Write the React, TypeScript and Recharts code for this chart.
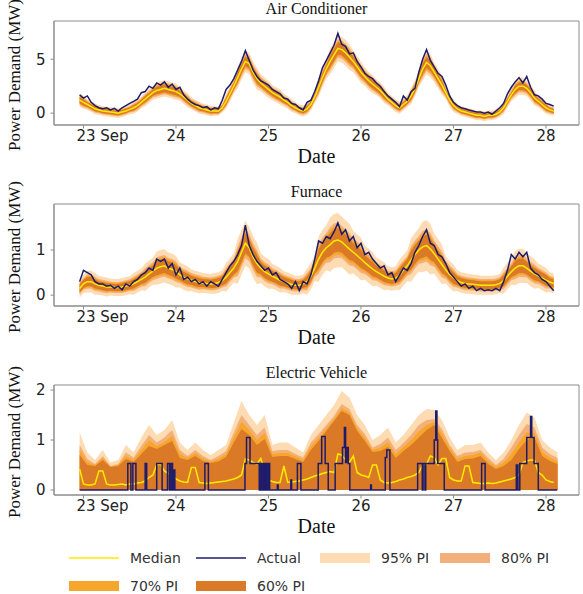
import React from 'react';
import { ComposedChart, Area, Line, XAxis, YAxis, ReferenceArea } from 'recharts';

// time axis: hours since 23 Sep 00:00, hourly samples start at -1 (22 Sep 23:00)
const DAY_TICKS = [0, 24, 48, 72, 96, 120];
const DAY_LABELS = ['23 Sep', '24', '25', '26', '27', '28'];
const X_DOMAIN: [number, number] = [-7.65, 128.56];

// ---------- Air Conditioner (MW) ----------
const AC_ACTUAL = [
  1.7, 1.4, 1.6, 1.0, 0.7, 0.5, 0.4, 0.5, 0.3, 0.45, 0.2, 0.5,
  0.7, 0.9, 1.1, 1.3, 1.9, 2.0, 2.5, 2.3, 2.8, 2.6, 2.9, 2.4,
  2.7, 2.2, 2.4, 1.7, 1.3, 1.0, 0.8, 0.7, 0.5, 0.6, 0.3, 0.5,
  0.4, 1.2, 2.2, 2.6, 3.2, 4.0, 4.8, 5.8, 4.9, 4.0, 3.4, 3.0,
  2.8, 2.6, 2.2, 2.0, 1.8, 1.4, 1.3, 0.9, 0.8, 0.5, 0.3, 1.0,
  1.2, 2.0, 3.0, 4.2, 4.9, 5.6, 6.3, 7.4, 6.4, 6.2, 5.5, 5.6,
  4.8, 4.3, 3.7, 3.4, 3.2, 2.8, 2.5, 2.0, 1.6, 1.3, 1.0, 0.6,
  1.6, 1.2, 2.0, 2.3, 3.8, 5.0, 5.9, 4.9, 4.3, 3.7, 3.4, 2.6,
  1.6, 1.0, 0.7, 0.5, 0.4, 0.3, 0.2, 0.1, 0.1, 0.0, 0.1, -0.1,
  0.2, 0.5, 0.9, 1.8, 2.4, 2.9, 3.3, 2.8, 3.4, 2.4, 1.7, 1.6,
  1.3, 0.9, 0.8, 0.65,
];
const AC_MEDIAN = [
  1.2, 1.0, 0.8, 0.6, 0.4, 0.3, 0.2, 0.15, 0.1, 0.05, 0.0, 0.1,
  0.2, 0.35, 0.5, 0.7, 1.0, 1.3, 1.6, 1.9, 2.1, 2.2, 2.3, 2.2,
  2.1, 2.0, 1.8, 1.5, 1.2, 0.9, 0.7, 0.5, 0.4, 0.3, 0.2, 0.2,
  0.2, 0.5, 1.1, 1.8, 2.5, 3.3, 4.1, 4.8, 4.6, 3.8, 3.2, 2.8,
  2.5, 2.2, 1.9, 1.7, 1.5, 1.2, 1.0, 0.7, 0.5, 0.3, 0.2, 0.4,
  0.8, 1.5, 2.4, 3.3, 4.1, 4.8, 5.4, 6.0, 5.9, 5.6, 5.2, 4.8,
  4.3, 3.8, 3.4, 3.0, 2.7, 2.4, 2.1, 1.7, 1.3, 1.0, 0.7, 0.5,
  0.8, 1.1, 1.6, 2.3, 3.2, 4.1, 4.7, 4.4, 3.8, 3.2, 2.6, 1.9,
  1.2, 0.7, 0.4, 0.2, 0.1, 0.0, -0.1, -0.2, -0.2, -0.3, -0.2, -0.2,
  -0.1, 0.1, 0.5, 1.1, 1.7, 2.2, 2.5, 2.5, 2.3, 1.9, 1.4, 1.1,
  0.8, 0.5, 0.3, 0.2,
];
// half-widths of the prediction intervals, every 3 hours
const AC_W95 = [
  0.6, 0.5, 0.45, 0.45, 0.45, 0.55, 0.65, 0.75, 0.75, 0.65,
  0.55, 0.5, 0.45, 0.7, 1.0, 1.0, 0.8, 0.7, 0.6, 0.5,
  0.55, 0.9, 1.2, 1.2, 1.0, 0.85, 0.75, 0.6, 0.55, 0.75,
  1.1, 0.9, 0.6, 0.45, 0.45, 0.45, 0.45, 0.6, 0.8, 0.7,
  0.55, 0.45,
];
const AC_W80 = [
  0.45, 0.35, 0.3, 0.3, 0.3, 0.4, 0.45, 0.55, 0.55, 0.45,
  0.4, 0.35, 0.3, 0.5, 0.7, 0.7, 0.55, 0.5, 0.4, 0.35,
  0.4, 0.65, 0.85, 0.85, 0.7, 0.6, 0.55, 0.4, 0.4, 0.55,
  0.8, 0.65, 0.4, 0.3, 0.3, 0.3, 0.3, 0.4, 0.55, 0.5,
  0.4, 0.3,
];
const AC_W70 = [
  0.35, 0.28, 0.25, 0.25, 0.25, 0.3, 0.35, 0.45, 0.45, 0.35,
  0.3, 0.28, 0.25, 0.4, 0.55, 0.55, 0.45, 0.4, 0.3, 0.28,
  0.3, 0.5, 0.7, 0.7, 0.55, 0.5, 0.45, 0.3, 0.3, 0.45,
  0.65, 0.5, 0.3, 0.25, 0.25, 0.25, 0.25, 0.3, 0.45, 0.4,
  0.3, 0.25,
];
const AC_W60 = [
  0.28, 0.22, 0.2, 0.2, 0.2, 0.25, 0.28, 0.35, 0.35, 0.28,
  0.25, 0.22, 0.2, 0.32, 0.45, 0.45, 0.35, 0.32, 0.25, 0.22,
  0.25, 0.4, 0.55, 0.55, 0.45, 0.4, 0.35, 0.25, 0.25, 0.35,
  0.5, 0.4, 0.25, 0.2, 0.2, 0.2, 0.2, 0.25, 0.35, 0.32,
  0.25, 0.2,
];

// ---------- Furnace (MW) ----------
const FU_ACTUAL = [
  0.3, 0.55, 0.5, 0.45, 0.3, 0.25, 0.25, 0.2, 0.22, 0.15, 0.2, 0.12,
  0.25, 0.2, 0.3, 0.35, 0.45, 0.5, 0.6, 0.55, 0.8, 0.75, 0.8, 0.6,
  0.7, 0.45, 0.6, 0.35, 0.4, 0.3, 0.35, 0.25, 0.3, 0.2, 0.3, 0.25,
  0.2, 0.35, 0.5, 0.65, 0.75, 0.9, 1.1, 1.55, 1.1, 0.9, 0.75, 0.65,
  0.55, 0.6, 0.45, 0.5, 0.35, 0.3, 0.25, 0.15, 0.3, 0.1, 0.3, 0.25,
  0.45, 0.8, 1.2, 1.15, 1.3, 1.25, 1.4, 1.6, 1.35, 1.45, 1.2, 1.3,
  1.05, 1.15, 0.9, 0.95, 0.8, 0.7, 0.6, 0.65, 0.45, 0.5, 0.3, 0.45,
  0.6, 0.55, 0.7, 0.95, 1.1, 1.3, 1.45, 1.15, 1.1, 0.9, 0.85, 0.7,
  0.5, 0.4, 0.3, 0.2, 0.25, 0.15, 0.2, 0.1, 0.15, 0.1, 0.12, 0.1,
  0.15, 0.1, 0.3, 0.55, 0.9, 0.8, 0.95, 0.85, 0.95, 0.6, 0.5, 0.45,
  0.35, 0.3, 0.2, 0.1,
];
const FU_MEDIAN = [
  0.15, 0.25, 0.3, 0.3, 0.25, 0.22, 0.2, 0.18, 0.18, 0.17, 0.17, 0.18,
  0.2, 0.22, 0.25, 0.3, 0.35, 0.4, 0.47, 0.53, 0.6, 0.63, 0.65, 0.6,
  0.57, 0.52, 0.45, 0.4, 0.36, 0.33, 0.3, 0.28, 0.27, 0.26, 0.25, 0.26,
  0.28, 0.32, 0.4, 0.5, 0.6, 0.75, 0.95, 1.15, 1.05, 0.85, 0.7, 0.6,
  0.52, 0.47, 0.42, 0.38, 0.33, 0.3, 0.27, 0.24, 0.22, 0.22, 0.25, 0.3,
  0.42, 0.6, 0.8, 0.95, 1.05, 1.12, 1.2, 1.22, 1.18, 1.1, 1.02, 0.95,
  0.88, 0.8, 0.72, 0.65, 0.58, 0.52, 0.47, 0.42, 0.38, 0.36, 0.38, 0.45,
  0.55, 0.65, 0.78, 0.9, 1.0, 1.07, 1.1, 1.02, 0.92, 0.8, 0.68, 0.56,
  0.46, 0.38, 0.32, 0.28, 0.26, 0.25, 0.24, 0.23, 0.22, 0.22, 0.22, 0.22,
  0.23, 0.26, 0.32, 0.42, 0.52, 0.6, 0.65, 0.65, 0.6, 0.53, 0.47, 0.43,
  0.38, 0.33, 0.29, 0.26,
];
const FU_W95 = [
  0.2, 0.24, 0.21, 0.19, 0.2, 0.24, 0.3, 0.37, 0.35, 0.28,
  0.24, 0.22, 0.23, 0.32, 0.5, 0.46, 0.33, 0.27, 0.23, 0.21,
  0.29, 0.5, 0.6, 0.56, 0.47, 0.38, 0.31, 0.26, 0.34, 0.48,
  0.56, 0.44, 0.3, 0.23, 0.22, 0.21, 0.21, 0.29, 0.38, 0.33,
  0.27, 0.22,
];
const FU_W80 = [
  0.13, 0.16, 0.14, 0.12, 0.13, 0.16, 0.2, 0.24, 0.23, 0.18,
  0.16, 0.14, 0.15, 0.21, 0.33, 0.3, 0.21, 0.18, 0.15, 0.14,
  0.19, 0.33, 0.39, 0.36, 0.31, 0.25, 0.2, 0.17, 0.22, 0.31,
  0.36, 0.29, 0.2, 0.15, 0.14, 0.14, 0.14, 0.19, 0.25, 0.21,
  0.18, 0.14,
];
const FU_W70 = [
  0.11, 0.13, 0.11, 0.1, 0.11, 0.13, 0.16, 0.2, 0.19, 0.15,
  0.13, 0.12, 0.12, 0.17, 0.27, 0.24, 0.17, 0.14, 0.12, 0.11,
  0.15, 0.27, 0.32, 0.3, 0.25, 0.2, 0.16, 0.14, 0.18, 0.25,
  0.3, 0.23, 0.16, 0.12, 0.12, 0.11, 0.11, 0.15, 0.2, 0.17,
  0.14, 0.12,
];
const FU_W60 = [
  0.09, 0.1, 0.09, 0.08, 0.09, 0.1, 0.13, 0.16, 0.15, 0.12,
  0.1, 0.09, 0.1, 0.14, 0.22, 0.2, 0.14, 0.12, 0.1, 0.09,
  0.12, 0.22, 0.26, 0.24, 0.2, 0.16, 0.13, 0.11, 0.15, 0.21,
  0.24, 0.19, 0.13, 0.1, 0.09, 0.09, 0.09, 0.12, 0.16, 0.14,
  0.12, 0.09,
];

// ---------- Electric Vehicle (MW) ----------
const EV_MEDIAN = [
  0.42, 0.12, 0.1, 0.1, 0.12, 0.38, 0.38, 0.12, 0.1, 0.1, 0.11, 0.12,
  0.1, 0.12, 0.12, 0.14, 0.15, 0.18, 0.25, 0.3, 0.5, 0.52, 0.38, 0.33,
  0.3, 0.22, 0.18, 0.16, 0.15, 0.45, 0.45, 0.15, 0.14, 0.13, 0.14, 0.15,
  0.16, 0.17, 0.18, 0.2, 0.22, 0.25, 0.3, 0.62, 0.6, 0.55, 0.52, 0.63,
  0.4, 0.2, 0.17, 0.15, 0.15, 0.48, 0.15, 0.16, 0.17, 0.18, 0.2, 0.22,
  0.25, 0.28, 0.3, 0.33, 0.35, 0.37, 0.35, 0.72, 0.7, 0.6, 0.55, 0.68,
  0.35, 0.3, 0.28, 0.25, 0.5, 0.5, 0.2, 0.15, 0.14, 0.15, 0.17, 0.2,
  0.22, 0.25, 0.27, 0.3, 0.35, 0.5, 0.52, 0.68, 0.65, 0.5, 0.63, 0.63,
  0.25, 0.2, 0.18, 0.18, 0.48, 0.48, 0.15, 0.14, 0.13, 0.13, 0.14, 0.13,
  0.14, 0.16, 0.18, 0.2, 0.22, 0.25, 0.3, 0.55, 0.58, 0.6, 0.6, 0.35,
  0.3, 0.2, 0.17, 0.15,
];
// upper edge of each interval every 2 hours (lower edge is 0)
const EV_PI95 = [
  1.15, 0.75, 0.6, 0.8, 0.55, 0.6, 0.9, 0.75, 1.05, 1.3,
  1.1, 1.2, 1.4, 0.95, 0.8, 0.95, 0.8, 0.7, 0.8, 0.9,
  1.35, 1.78, 1.5, 1.3, 1.5, 0.9, 0.95, 0.95, 0.85, 0.75,
  1.1, 1.3, 1.5, 1.7, 1.98, 1.85, 1.5, 1.3, 1.0, 1.1,
  1.25, 0.95, 1.1, 1.3, 1.5, 1.62, 1.6, 1.4, 1.05, 0.8,
  0.9, 0.9, 0.95, 0.75, 0.6, 0.75, 1.0, 1.3, 1.55, 1.45,
  1.0, 0.85, 0.75,
];
const EV_PI80 = [
  0.9, 0.62, 0.52, 0.68, 0.48, 0.52, 0.75, 0.65, 0.88, 1.1,
  0.95, 1.05, 1.2, 0.8, 0.68, 0.8, 0.68, 0.6, 0.68, 0.78,
  1.15, 1.5, 1.3, 1.1, 1.25, 0.78, 0.8, 0.8, 0.72, 0.65,
  0.95, 1.12, 1.3, 1.48, 1.72, 1.62, 1.3, 1.12, 0.85, 0.92,
  1.05, 0.8, 0.94, 1.1, 1.3, 1.4, 1.42, 1.22, 0.9, 0.68,
  0.75, 0.76, 0.8, 0.64, 0.5, 0.62, 0.85, 1.1, 1.32, 1.25,
  0.85, 0.72, 0.64,
];
const EV_PI70 = [
  0.8, 0.56, 0.5, 0.64, 0.47, 0.5, 0.68, 0.6, 0.8, 1.0,
  0.88, 0.96, 1.08, 0.72, 0.64, 0.74, 0.63, 0.57, 0.62, 0.72,
  1.05, 1.36, 1.2, 1.0, 1.14, 0.72, 0.74, 0.74, 0.67, 0.6,
  0.87, 1.04, 1.23, 1.42, 1.64, 1.55, 1.24, 1.04, 0.8, 0.85,
  0.95, 0.72, 0.86, 1.0, 1.17, 1.3, 1.36, 1.13, 0.84, 0.62,
  0.68, 0.7, 0.75, 0.58, 0.46, 0.55, 0.72, 0.96, 1.15, 1.15,
  0.76, 0.65, 0.58,
];
const EV_PI60 = [
  0.7, 0.5, 0.48, 0.6, 0.46, 0.48, 0.62, 0.56, 0.72, 0.88,
  0.82, 0.9, 0.98, 0.64, 0.6, 0.68, 0.58, 0.54, 0.57, 0.66,
  0.95, 1.22, 1.1, 0.9, 1.02, 0.66, 0.68, 0.68, 0.62, 0.56,
  0.8, 0.98, 1.18, 1.38, 1.58, 1.5, 1.18, 0.98, 0.76, 0.78,
  0.86, 0.64, 0.78, 0.9, 1.05, 1.2, 1.3, 1.04, 0.78, 0.56,
  0.62, 0.63, 0.68, 0.52, 0.42, 0.48, 0.6, 0.82, 1.0, 1.05,
  0.68, 0.58, 0.52,
];
// actual EV demand is a step signal: [hour, level from that hour on]
const EV_ACTUAL_STEPS: [number, number][] = [
  [-1, 0], [11.5, 0.53], [12.3, 0], [12.8, 0.53], [13.6, 0], [16.0, 0.53], [16.4, 0],
  [19.0, 0.53], [20.4, 0], [21.8, 0.53], [22.3, 0], [22.7, 0.53], [23.1, 0], [23.5, 0.4], [23.7, 0],
  [31.5, 0.53], [32.4, 0],
  [41.9, 0.53], [42.3, 1.05], [43.2, 0.53], [45.6, 0],
  [46.0, 0.53], [46.3, 0], [46.7, 0.53], [47.0, 0], [47.3, 0.53], [47.6, 0], [48.0, 0.53], [48.3, 0],
  [50.3, 0.1], [50.5, 0], [53.8, 0.2], [54.0, 0], [55.5, 0.53], [56.4, 0],
  [60.9, 0.53], [61.8, 1.07], [62.7, 0.53], [63.5, 0],
  [65.3, 0.53], [67.2, 0.85], [67.7, 1.25], [68.0, 0.55], [68.3, 0.85], [68.7, 0.53], [69.1, 0],
  [74.5, 0.1], [74.7, 0], [78.3, 0.65], [78.7, 0.8], [79.5, 0],
  [86.7, 0.53], [87.9, 0], [88.1, 0.53], [88.6, 0], [88.8, 0.53], [91.0, 1.0], [91.4, 1.58],
  [91.7, 1.0], [91.9, 0.53], [93.6, 0],
  [103.3, 0.53], [104.2, 0],
  [112.3, 0.5], [112.7, 0], [113.2, 0.53], [115.0, 1.05], [116.0, 1.47], [116.3, 1.05],
  [116.9, 0.53], [118.0, 0], [122.9, 0],
];

const MEDIAN_COLOR = '#ffea00';
const ACTUAL_COLOR = '#1d1b6c';
const PI_COLORS = { pi95: '#fddcb4', pi80: '#f4b07a', pi70: '#f7a62c', pi60: '#db7a26' };
const FRAME = '#8c8c8c';
const SERIF = '"Liberation Serif", "Times New Roman", serif';
const SANS = '"DejaVu Sans", sans-serif';

const hourlyRows = (actual: number[], median: number[], w95: number[], w80: number[], w70: number[], w60: number[]) =>
  median.map((m, i) => {
    const k = Math.min(Math.round(i / 3), w95.length - 1);
    return {
      t: i - 1,
      actual: actual[i],
      median: m,
      pi95: [m - w95[k], m + w95[k]],
      pi80: [m - w80[k], m + w80[k]],
      pi70: [m - w70[k], m + w70[k]],
      pi60: [m - w60[k], m + w60[k]],
    };
  });

const acRows = hourlyRows(AC_ACTUAL, AC_MEDIAN, AC_W95, AC_W80, AC_W70, AC_W60);
const fuRows = hourlyRows(FU_ACTUAL, FU_MEDIAN, FU_W95, FU_W80, FU_W70, FU_W60);
const evMedianRows = EV_MEDIAN.map((v, i) => ({ t: i - 1, median: v }));
const evBandRows = EV_PI95.map((v, j) => ({
  t: -1 + 2 * j, pi95: v, pi80: EV_PI80[j], pi70: EV_PI70[j], pi60: EV_PI60[j],
}));
const evActualRows = EV_ACTUAL_STEPS.map(([t, v]) => ({ t, actual: v }));

const DayTick = (props: any) => {
  const { x, y, payload } = props;
  const idx = DAY_TICKS.indexOf(payload.value);
  // the first label sits to the right of its tick in the original
  return (
    <text x={x + (idx === 0 ? 19 : 0)} y={y} dy="0.71em" textAnchor="middle" fontSize={15} fontFamily={SANS} fill="#222">
      {DAY_LABELS[idx]}
    </text>
  );
};

const DateLabel = (props: any) => {
  const { viewBox } = props;
  return (
    <text x={viewBox.x + viewBox.width / 2} y={viewBox.y + 38} textAnchor="middle" fontSize={20} fontFamily={SERIF} fill="#111">
      Date
    </text>
  );
};

const PowerLabel = (props: any) => {
  const { viewBox } = props;
  const cx = 14;
  const cy = viewBox.y + viewBox.height / 2 + 2;
  return (
    <text x={cx} y={cy} transform={`rotate(-90, ${cx}, ${cy})`} textAnchor="middle" dominantBaseline="central"
      fontSize={17} fontFamily={SERIF} fill="#111">
      Power Demand (MW)
    </text>
  );
};

const bandAreas = (data?: any[]) =>
  (['pi95', 'pi80', 'pi70', 'pi60'] as const).map((key) => (
    <Area key={key} data={data} dataKey={key} type="linear" stroke="none" fill={PI_COLORS[key]} fillOpacity={1}
      baseValue={0} activeDot={false} dot={false} isAnimationActive={false} />
  ));

type PanelProps = {
  title: string;
  top: number;
  height: number;
  marginTop: number;
  yDomain: [number, number];
  yTicks: number[];
  data?: any[];
  children: React.ReactNode;
};

function Panel({ title, top, height, marginTop, yDomain, yTicks, data, children }: PanelProps) {
  return (
    <div style={{ position: 'absolute', left: 0, top, width: 583, height }}>
      <div style={{
        position: 'absolute', left: 54, width: 525, top: marginTop - 21, textAlign: 'center',
        fontFamily: SERIF, fontSize: 16, lineHeight: '18px', color: '#111',
      }}>
        {title}
      </div>
      <ComposedChart width={583} height={height} data={data} margin={{ top: marginTop, right: 4, bottom: 0, left: 0 }}>
        <XAxis dataKey="t" type="number" domain={X_DOMAIN} allowDataOverflow ticks={DAY_TICKS} interval={0}
          height={45} tickSize={3.5} tickMargin={2} stroke={FRAME} tick={<DayTick />} label={<DateLabel />} />
        <YAxis type="number" domain={yDomain} allowDataOverflow ticks={yTicks} interval={0} width={54}
          tickSize={3.5} tickMargin={5} stroke={FRAME}
          tick={{ fontSize: 15, fontFamily: SANS, fill: '#222' }} label={<PowerLabel />} />
        {children}
        <ReferenceArea x1={X_DOMAIN[0]} x2={X_DOMAIN[1]} y1={yDomain[0]} y2={yDomain[1]}
          fill="none" stroke={FRAME} strokeWidth={1} ifOverflow="visible" />
      </ComposedChart>
    </div>
  );
}

const LEGEND_ITEMS = [
  { label: 'Median', kind: 'line', color: MEDIAN_COLOR },
  { label: 'Actual', kind: 'line', color: ACTUAL_COLOR },
  { label: '95% PI', kind: 'box', color: PI_COLORS.pi95 },
  { label: '80% PI', kind: 'box', color: PI_COLORS.pi80 },
  { label: '70% PI', kind: 'box', color: PI_COLORS.pi70 },
  { label: '60% PI', kind: 'box', color: PI_COLORS.pi60 },
];
const LEGEND_COLS = [69, 196, 320, 440];
const LEGEND_ROWS = [558, 586];

function PILegend() {
  return (
    <>
      {LEGEND_ITEMS.map((item, i) => {
        const x = LEGEND_COLS[i % 4];
        const y = LEGEND_ROWS[Math.floor(i / 4)];
        return (
          <div key={item.label} style={{ position: 'absolute', left: x, top: y - 10, height: 20, display: 'flex', alignItems: 'center' }}>
            {item.kind === 'line'
              ? <div style={{ width: 50, height: 1.5, background: item.color, opacity: 0.75 }} />
              : <div style={{ width: 50, height: 10, background: item.color }} />}
            <span style={{ marginLeft: 11, fontFamily: SANS, fontSize: 14, color: '#333', whiteSpace: 'nowrap' }}>
              {item.label}
            </span>
          </div>
        );
      })}
    </>
  );
}

export default function App() {
  return (
    <div style={{ position: 'absolute', left: 0, top: 0, width: 583, height: 594, background: '#fff', overflow: 'hidden' }}>
      <Panel title="Air Conditioner" top={0} height={170} marginTop={21} yDomain={[-1.1, 8.55]} yTicks={[0, 5]} data={acRows}>
        {bandAreas()}
        <Line dataKey="median" type="linear" stroke={MEDIAN_COLOR} strokeWidth={1.5} dot={false} activeDot={false} isAnimationActive={false} />
        <Line dataKey="actual" type="linear" stroke={ACTUAL_COLOR} strokeWidth={1.5} dot={false} activeDot={false} isAnimationActive={false} />
      </Panel>
      <Panel title="Furnace" top={170} height={181} marginTop={34} yDomain={[-0.24, 2.02]} yTicks={[0, 1]} data={fuRows}>
        {bandAreas()}
        <Line dataKey="median" type="linear" stroke={MEDIAN_COLOR} strokeWidth={1.5} dot={false} activeDot={false} isAnimationActive={false} />
        <Line dataKey="actual" type="linear" stroke={ACTUAL_COLOR} strokeWidth={1.5} dot={false} activeDot={false} isAnimationActive={false} />
      </Panel>
      <Panel title="Electric Vehicle" top={351} height={189} marginTop={34} yDomain={[-0.1, 2.1]} yTicks={[0, 1, 2]} data={evMedianRows}>
        {bandAreas(evBandRows)}
        <Line dataKey="median" type="linear" stroke={MEDIAN_COLOR} strokeWidth={1.5} dot={false} activeDot={false} isAnimationActive={false} />
        <Line data={evActualRows} dataKey="actual" type="stepAfter" stroke={ACTUAL_COLOR} strokeWidth={1.5} dot={false} activeDot={false} isAnimationActive={false} />
      </Panel>
      <PILegend />
    </div>
  );
}
